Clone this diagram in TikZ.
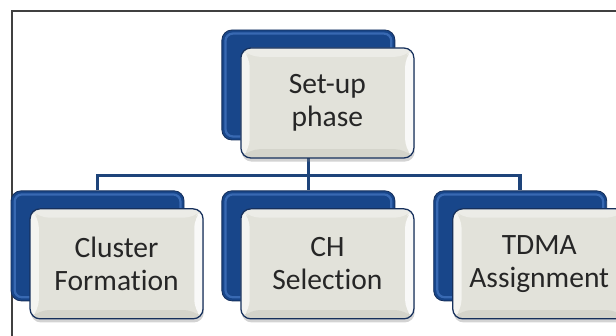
\documentclass[tikz,border=0pt]{standalone}
\usepackage{fontspec}
\setmainfont{Carlito}[Ligatures=NoCommon]
\usetikzlibrary{positioning,calc,shadows,backgrounds}

\definecolor{backblue}{RGB}{24,70,138}
\definecolor{rimblue}{RGB}{70,120,195}
\definecolor{edgeblue}{RGB}{22,48,92}
\definecolor{frontgray}{RGB}{226,226,218}
\definecolor{bevellight}{RGB}{244,244,240}
\definecolor{beveldark}{RGB}{212,212,203}
\definecolor{linkblue}{RGB}{30,68,122}

\tikzset{
  backbox/.style={rectangle, rounded corners=0.25cm,
    minimum width=4.325cm, minimum height=2.75cm,
    fill=backblue, draw=edgeblue, line width=0.6pt,
    path picture={
      \draw[rimblue, line width=1.6pt, opacity=0.7, rounded corners=0.18cm]
        ($(path picture bounding box.north west)+(0.09,-0.09)$) rectangle
        ($(path picture bounding box.south east)+(-0.09,0.09)$);
    }},
  frontbox/.style={rectangle, rounded corners=0.25cm,
    minimum width=4.325cm, minimum height=2.75cm,
    fill=frontgray, draw=edgeblue, line width=0.9pt, align=center,
    text=black!85, font=\fontsize{21}{23.5}\selectfont,
    drop shadow={shadow xshift=0.02cm, shadow yshift=-0.09cm, opacity=0.35},
    path picture={
      \coordinate (bnw) at (path picture bounding box.north west);
      \coordinate (bne) at (path picture bounding box.north east);
      \coordinate (bsw) at (path picture bounding box.south west);
      \coordinate (bse) at (path picture bounding box.south east);
      % bevel bands
      \fill[bevellight] (bnw) -- (bsw) -- ($(bsw)+(0.22,0.22)$) -- ($(bnw)+(0.22,-0.22)$) -- cycle;
      \fill[white!80!frontgray] (bne) -- (bse) -- ($(bse)+(-0.22,0.22)$) -- ($(bne)+(-0.22,-0.22)$) -- cycle;
      \fill[beveldark] (bsw) -- (bse) -- ($(bse)+(-0.22,0.22)$) -- ($(bsw)+(0.22,0.22)$) -- cycle;
      \fill[white!35!frontgray] (bnw) -- (bne) -- ($(bne)+(-0.22,-0.22)$) -- ($(bnw)+(0.22,-0.22)$) -- cycle;
    }},
  link/.style={draw=linkblue, line width=2.6pt}
}

\begin{document}
\begin{tikzpicture}[node distance=1.25cm and 0.93cm]

\useasboundingbox (0,0) rectangle (15.4,8.4);

% frame
\draw[black!75, line width=1pt] (0.3,0) -- (0.3,8.125) -- (15.4,8.125);

% back boxes
\node[backbox] (setupB) at (7.71,6.275) {};
\node[backbox, below=of setupB] (chB) {};
\node[backbox, left=0.925cm of chB] (clusterB) {};
\node[backbox, right=0.95cm of chB] (tdmaB) {};

% front boxes
\node[frontbox] (setup) at ($(setupB)+(0.475,-0.45)$) {Set-up\\phase};
\node[frontbox] (cluster) at ($(clusterB)+(0.475,-0.45)$) {Cluster\\Formation};
\node[frontbox] (ch) at ($(chB)+(0.475,-0.45)$) {CH\\Selection};
\node[frontbox] (tdma) at ($(tdmaB)+(0.475,-0.45)$) {TDMA\\Assignment};

% connectors
\coordinate (bus) at ($(chB.north)+(0,0.375)$);
\begin{scope}[on background layer]
\draw[link] (setupB.south) -- (bus);
\draw[link] (clusterB.north) |- (bus) -| (tdmaB.north);
\draw[link] (bus) -- (chB.north);
\end{scope}

\end{tikzpicture}
\end{document}
